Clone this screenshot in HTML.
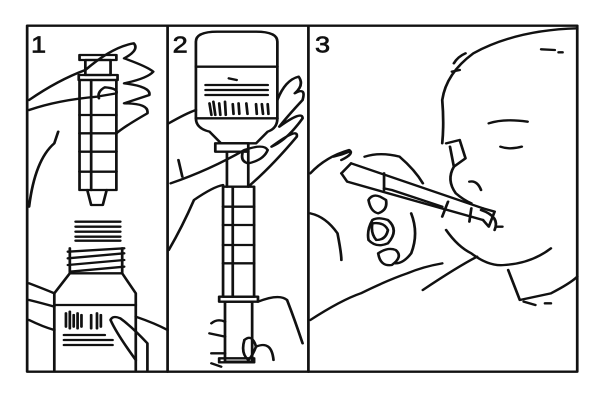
<!DOCTYPE html>
<html><head><meta charset="utf-8"><style>html,body{margin:0;padding:0;background:#fff}svg{display:block}</style></head>
<body>
<svg width="604" height="400" viewBox="0 0 1557 1200" preserveAspectRatio="none" xmlns="http://www.w3.org/2000/svg">
<g fill="none" stroke="#111" stroke-width="7" stroke-linejoin="round" stroke-linecap="round">
<rect x="70" y="77" width="1418" height="1038"/>
<line x1="432" y1="77" x2="432" y2="1115"/>
<line x1="795" y1="77" x2="795" y2="1115"/>
<!-- panel 1 syringe -->
<rect x="205" y="165" width="95" height="15"/>
<rect x="220" y="180" width="65" height="45"/>
<rect x="203" y="225" width="100" height="15"/>
<rect x="205" y="240" width="95" height="330"/>
<line x1="235" y1="240" x2="235" y2="570"/>
<line x1="205" y1="345" x2="300" y2="345"/><line x1="205" y1="400" x2="300" y2="400"/><line x1="205" y1="455" x2="300" y2="455"/><line x1="205" y1="515" x2="300" y2="515"/>
<path d="M225 570 L235 615 L265 615 L275 570"/>
<!-- hand 1 -->
<path d="M75 300 Q150 240 220 210 Q290 140 345 130 Q360 150 320 175 Q380 200 395 215 Q380 235 320 250 Q390 260 385 285 L320 310 Q385 310 380 340 Q320 380 300 400"/>
<path d="M75 330 Q150 300 250 290 L300 280 Q305 265 270 262 Q250 275 255 295"/>
<path d="M150 395 L140 430 Q90 480 75 620"/>
<!-- bottle 1 -->
<path d="M195 665 H310 M195 680 H310 M195 695 H310 M195 710 H310 M195 722 H310"/>
<path d="M175 755 L320 745 M175 775 L320 760 M175 795 L320 780 M180 815 L320 800"/>
<path d="M180 745 V820 H315 V745"/>
<path d="M180 820 L140 880 V1110 M315 820 L350 880 V1110"/>
<path d="M140 915 H350"/>
<path d="M170 940 L170 980 M180 935 L180 985 M190 945 L190 980 M200 940 L200 985 M210 945 L210 980 M235 945 L235 985 M250 940 L250 985 M260 945 L260 980"/>
<path d="M165 1005 H270 M165 1020 H290 M165 1035 H290"/>
<path d="M75 850 Q120 870 140 880 M75 900 Q110 910 140 920 M75 960 Q110 980 140 990 M350 950 Q400 970 432 990"/>
<path d="M350 1080 Q300 1000 285 960 Q290 945 310 955 Q340 980 380 1030 L380 1110"/>
<!-- panel 2 bottle -->
<path d="M505 125 Q505 95 560 95 H660 Q715 95 715 125 V355 Q715 385 690 395 L660 430 H570 L540 395 Q505 385 505 355 Z"/>
<path d="M505 200 H715 M505 355 H715"/>
<path d="M530 255 H690 M530 270 H690 M530 285 H690"/>
<path d="M540 310 L545 345 M550 305 L555 345 M565 310 L568 345 M580 305 L582 345 M600 312 L602 342 M615 310 L617 342 M635 310 L638 342 M660 312 L662 342 M675 312 L678 342 M690 312 L692 342"/>
<path d="M590 235 L610 240"/>
<rect x="555" y="430" width="85" height="25"/>
<path d="M585 455 V560 M640 455 V560"/>
<!-- syringe 2 -->
<rect x="575" y="560" width="80" height="330"/>
<line x1="600" y1="560" x2="600" y2="890"/>
<line x1="575" y1="620" x2="655" y2="620"/><line x1="575" y1="675" x2="655" y2="675"/><line x1="575" y1="735" x2="655" y2="735"/><line x1="575" y1="790" x2="655" y2="790"/>
<rect x="565" y="890" width="100" height="15"/>
<rect x="580" y="905" width="70" height="180"/>
<rect x="565" y="1075" width="90" height="12"/>
<!-- hand 2 upper -->
<path d="M435 370 Q480 340 505 330 M715 300 Q735 240 770 230 Q785 255 760 280 Q790 260 780 300 Q740 350 720 380 Q780 330 780 355 Q740 420 700 440 Q770 380 765 410 Q700 500 640 560"/>
<path d="M440 550 Q540 510 630 450 Q680 430 690 450 Q680 480 640 490 Q620 485 625 460"/>
<path d="M435 750 Q470 680 500 600 Q550 560 575 555"/>
<path d="M460 480 L470 530"/>
<!-- hand 2 lower -->
<path d="M665 905 Q720 880 740 900 Q760 960 780 1030 M660 1040 Q700 1020 705 1080 M545 970 Q560 955 580 965 M540 1000 L580 1010 M545 1060 L580 1060 M545 1090 L570 1100"/>
<path d="M630 1020 Q650 1000 660 1040 Q650 1070 640 1080 Q620 1060 630 1020"/>
<!-- panel 3 baby -->
<path d="M1488 85 Q1330 90 1220 160 Q1150 220 1140 300 Q1145 370 1140 430"/>
<path d="M1170 190 Q1180 170 1200 160 M1165 215 L1185 210 M1395 148 L1430 150 M1440 157 L1450 157"/>
<path d="M1260 370 Q1300 355 1360 365"/>
<path d="M1290 440 Q1315 450 1345 440"/>
<path d="M1150 430 L1185 420 L1200 475 L1170 500 L1160 440"/>
<path d="M1170 500 Q1150 540 1175 580 Q1195 600 1215 610"/>
<path d="M1210 545 Q1230 540 1240 570"/>
<path d="M1240 630 Q1290 650 1275 690 M1280 680 L1295 680"/>
<path d="M1150 690 Q1180 740 1215 760 Q1260 800 1300 795 Q1370 790 1420 745"/>
<path d="M1090 870 Q1180 800 1230 770"/>
<path d="M1310 810 L1340 900 L1420 880 Q1470 850 1488 830"/>
<path d="M1350 905 L1380 915 M1405 910 L1420 910"/>
<!-- syringe 3 -->
<path d="M880 520 L895 545 L1245 660 M905 490 L1245 625"/>
<path d="M1155 605 L1140 650 M1245 625 L1275 635 L1260 680 L1245 660 M1215 625 L1210 665"/>
<path d="M880 520 L905 490"/>
<path d="M990 565 L1010 570 L1140 620"/>
<!-- hand 3 -->
<path d="M800 520 Q840 470 900 450 Q915 460 880 480 M860 470 Q880 465 900 455"/>
<path d="M940 470 Q980 455 1030 470 Q1070 510 1090 550 M990 520 L990 570"/>
<path d="M800 640 Q840 650 870 700 Q880 760 880 780"/>
<path d="M950 600 Q960 580 980 590 L995 600 Q1000 630 975 640 Q955 635 950 600"/>
<path d="M960 660 Q975 650 1000 660 Q1030 690 1000 730 Q970 745 950 720 Q945 690 960 660 Z"/>
<path d="M960 670 Q990 665 1000 690 Q995 720 970 720 Q955 700 960 670"/>
<path d="M975 760 Q1000 740 1020 750 Q1040 770 1010 795 Q980 800 975 760"/>
<path d="M1060 640 Q1080 700 1060 760 Q1040 790 1020 790"/>
<path d="M800 960 Q880 900 930 880 Q1000 840 1050 820 Q1090 800 1140 790"/>
</g>
<g font-family="Liberation Sans, sans-serif" font-size="70" fill="#111" stroke="#111" stroke-width="2">
<text x="80" y="158">1</text>
<text x="445" y="158">2</text>
<text x="812" y="158">3</text>
</g>
</svg>
</body></html>
